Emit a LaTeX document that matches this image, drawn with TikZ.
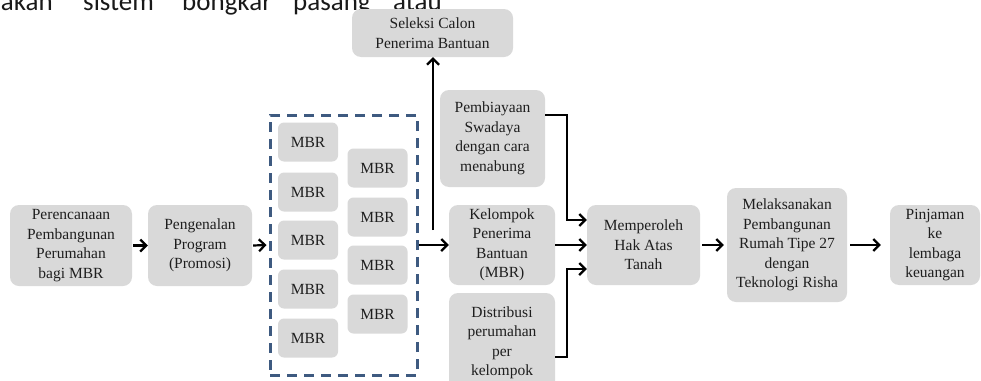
\documentclass[tikz,border=0pt]{standalone}
\usepackage{fontspec}
\setmainfont{Liberation Serif}
\newfontfamily\bodyfont{Carlito}
\usetikzlibrary{arrows.meta}
\definecolor{boxgray}{HTML}{D9D9D9}
\definecolor{dashblue}{HTML}{3E5A80}
\definecolor{txt}{HTML}{1E1E1E}
\tikzset{
  box/.style={draw=none, fill=boxgray, rounded corners=9pt, align=center, inner sep=0pt,
    text=txt, font=\fontsize{15.5}{19.5}\selectfont},
  mbr/.style={box, minimum width=60pt, minimum height=39pt, rounded corners=6pt},
  conn/.style={line width=2.2pt, -{Straight Barb[length=6pt,width=12pt,line width=2.2pt]}},
  word/.style={anchor=base west, inner sep=0pt, font=\bodyfont\fontsize{27}{32}\selectfont, text=black!90}
}
\begin{document}
\begin{tikzpicture}[x=1pt,y=-1pt]
\useasboundingbox (0,0) rectangle (981,380);
\clip (0,0) rectangle (981,380);
\fill[white] (0,0) rectangle (981,380);
% cut-off body text line at the top
\node[word, anchor=base east] (w1) at (53,10.5) {nakan};
\node[word] (w2) at (83,10.5) {sistem};
\node[word] (w3) at (182,10.5) {bongkar};
\node[word] (w4) at (293,10.5) {pasang};
\node[word] (w5) at (393,10.5) {atau};
% boxes
\node[box, minimum width=122pt, minimum height=81pt] (plan) at (71,245.5) {Perencanaan\\Pembangunan\\Perumahan\\bagi MBR};
\node[box, minimum width=104pt, minimum height=81pt] (promo) at (200,245.5) {Pengenalan\\Program\\(Promosi)};
\node[draw=dashblue, line width=3pt, dash pattern=on 10pt off 7pt, minimum width=147pt, minimum height=260pt, inner sep=0pt] (group) at (343.5,245) {};
\node[mbr] (m1) at (308,142) {MBR};
\node[mbr] (m2) at (308,192) {MBR};
\node[mbr] (m3) at (308,240) {MBR};
\node[mbr] (m4) at (308,289) {MBR};
\node[mbr] (m5) at (308,338) {MBR};
\node[mbr] (m6) at (377.5,168) {MBR};
\node[mbr] (m7) at (377.5,217) {MBR};
\node[mbr] (m8) at (377.5,265) {MBR};
\node[mbr] (m9) at (377.5,314) {MBR};
\node[box, minimum width=161pt, minimum height=48pt] (seleksi) at (432.5,33) {Seleksi Calon\\Penerima Bantuan};
\node[box, minimum width=105pt, minimum height=97pt] (swadaya) at (492.5,138.5) {Pembiayaan\\Swadaya\\dengan cara\\menabung};
\node[box, minimum width=106pt, minimum height=80pt] (kelompok) at (502,245) {Kelompok\\Penerima\\Bantuan\\(MBR)};
\node[box, minimum width=106pt, minimum height=100pt] (distribusi) at (502,343) {Distribusi\\perumahan\\per\\kelompok};
\node[box, minimum width=113pt, minimum height=80pt] (hak) at (643.5,245) {Memperoleh\\Hak Atas\\Tanah};
\node[box, minimum width=120pt, minimum height=114pt] (risha) at (787,245) {Melaksanakan\\Pembangunan\\Rumah Tipe 27\\dengan\\Teknologi Risha};
\node[box, minimum width=90pt, minimum height=80pt] (pinjam) at (935,245) {Pinjaman\\ke\\lembaga\\keuangan};
% connectors
\draw[conn] (plan.east) ++(1,0) -- (promo.west);
\draw[conn] (promo.east) ++(1,0) -- ([xshift=-2pt]group.west);
\draw[conn] (group.east) -- (kelompok.west);
\coordinate (up) at (433,230);
\draw[conn] (up) -- (seleksi.south -| up);
\draw[conn] (kelompok.east) -- (hak.west);
\coordinate (sw) at (swadaya.east |- 0,115);
\draw[conn] (sw) -| (567,220) -- (hak.west |- 0,220);
\coordinate (ds) at (distribusi.east |- 0,357);
\draw[conn] (ds) -| (567,269) -- (hak.west |- 0,269);
\draw[conn] ([xshift=2pt]hak.east) -- ([xshift=-3pt]risha.west);
\draw[conn] ([xshift=3pt]risha.east) -- ([xshift=-9pt]pinjam.west);
\end{tikzpicture}
\end{document}
